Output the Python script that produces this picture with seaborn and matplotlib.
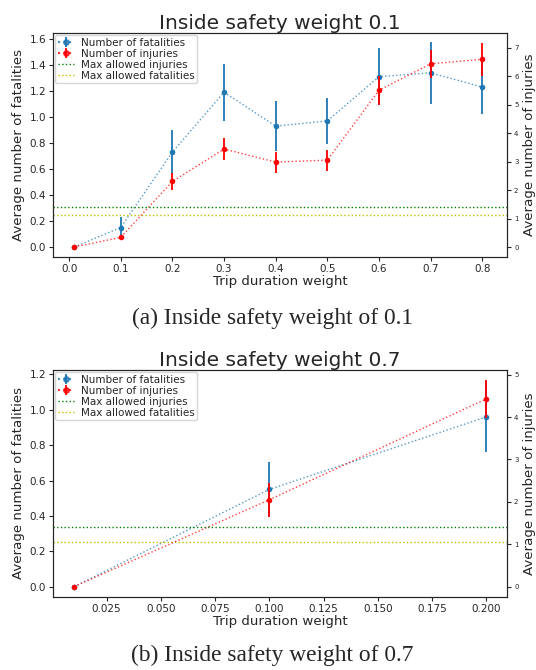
import numpy as np
import pandas as pd
import matplotlib
matplotlib.use("Agg")
import matplotlib.pyplot as plt
import seaborn as sns
from matplotlib.container import ErrorbarContainer

# ---- data ----
# (a) inside safety weight 0.1
trip_a = [0.01, 0.1, 0.2, 0.3, 0.4, 0.5, 0.6, 0.7, 0.8]
fat_a = [0.0, 0.15, 0.73, 1.19, 0.93, 0.97, 1.31, 1.34, 1.23]
fat_err_a = [0.0, 0.08, 0.17, 0.22, 0.19, 0.18, 0.22, 0.24, 0.21]
inj_a = [0.0, 0.34, 2.30, 3.44, 2.98, 3.05, 5.50, 6.43, 6.59]
inj_err_a = [0.0, 0.05, 0.30, 0.40, 0.37, 0.37, 0.50, 0.50, 0.58]

# (b) inside safety weight 0.7
trip_b = [0.01, 0.1, 0.2]
fat_b = [0.0, 0.55, 0.96]
fat_err_b = [0.0, 0.155, 0.20]
inj_b = [0.0, 2.05, 4.43]
inj_err_b = [0.0, 0.40, 0.45]

max_fatalities = 0.25
max_injuries = 1.4

sns.set_style("ticks")
plt.rcParams['font.family'] = ['DejaVu Sans']

fig = plt.figure(figsize=(5.36, 6.70), dpi=100)

BLUE = "#1f77b4"
RED = "red"


def draw_panel(ax, trip, fat, fat_err, inj, inj_err, title, ylim_l, ylim_r, yticks_l, yticks_r):
    df = pd.DataFrame({"trip": trip, "fat": fat, "inj": inj})
    ax2 = ax.twinx()

    # fatalities on the left axis
    sns.lineplot(data=df, x="trip", y="fat", ax=ax, color=BLUE, linestyle=":",
                 linewidth=1.0, alpha=0.75, legend=False)
    sns.scatterplot(data=df, x="trip", y="fat", ax=ax, color=BLUE, s=16,
                    edgecolor=BLUE, linewidth=0, legend=False, zorder=3)
    eb_f = ax.errorbar(trip, fat, yerr=fat_err, fmt="none", ecolor=BLUE, elinewidth=1.3)
    line_f = plt.Line2D([], [], color=BLUE, linestyle=":", marker="o", markersize=3.8, alpha=0.8)
    h_fat = ErrorbarContainer((line_f, (), eb_f.lines[2]), has_yerr=True)
    h_fat.set_label("Number of fatalities")

    # injuries on the right axis
    sns.lineplot(data=df, x="trip", y="inj", ax=ax2, color=RED, linestyle=":",
                 linewidth=1.0, alpha=0.75, legend=False)
    sns.scatterplot(data=df, x="trip", y="inj", ax=ax2, color=RED, s=16,
                    edgecolor=RED, linewidth=0, legend=False, zorder=3)
    eb_i = ax2.errorbar(trip, inj, yerr=inj_err, fmt="none", ecolor=RED, elinewidth=1.3)
    line_i = plt.Line2D([], [], color=RED, linestyle=":", marker="o", markersize=3.8, alpha=0.8)
    h_inj = ErrorbarContainer((line_i, (), eb_i.lines[2]), has_yerr=True)
    h_inj.set_label("Number of injuries")

    h_mi = ax2.axhline(max_injuries, color="green", linestyle=":", linewidth=1.0,
                       label="Max allowed injuries")
    h_mf = ax.axhline(max_fatalities, color="y", linestyle=":", linewidth=1.0,
                      label="Max allowed fatalities")

    ax.set_ylim(*ylim_l)
    ax2.set_ylim(*ylim_r)
    ax.set_yticks(yticks_l)
    ax2.set_yticks(yticks_r)
    ax.set_title(title, fontsize=14.5, pad=3)
    ax.set_xlabel("Trip duration weight", fontsize=9.6, labelpad=1)
    ax.set_ylabel("Average number of fatalities", fontsize=9.6, labelpad=3)
    ax2.set_ylabel("Average number of injuries", fontsize=9.6, labelpad=3)
    ax.tick_params(labelsize=7.5, length=3, pad=2)
    ax2.tick_params(labelsize=5, length=3, pad=2)
    ax2.legend(handles=[h_fat, h_inj, h_mi, h_mf], loc="upper left", fontsize=7.5,
               borderpad=0.25, labelspacing=0.1, handlelength=1.6, handletextpad=0.6,
               borderaxespad=0.2)
    return ax, ax2


ax_a = fig.add_axes([0.099, 0.6164, 0.847, 0.3343])
draw_panel(ax_a, trip_a, fat_a, fat_err_a, inj_a, inj_err_a,
           "Inside safety weight 0.1", (-0.077, 1.646), (-0.35, 7.51),
           np.arange(0, 1.61, 0.2), range(0, 8))
ax_a.set_xlim(-0.031, 0.848)
ax_a.set_xticks([0.0, 0.1, 0.2, 0.3, 0.4, 0.5, 0.6, 0.7, 0.8])

ax_b = fig.add_axes([0.099, 0.109, 0.847, 0.3388])
draw_panel(ax_b, trip_b, fat_b, fat_err_b, inj_b, inj_err_b,
           "Inside safety weight 0.7", (-0.058, 1.225), (-0.244, 5.11),
           np.arange(0, 1.21, 0.2), range(0, 6))
ax_b.set_xlim(0.0003, 0.2095)
ax_b.set_xticks([0.025, 0.05, 0.075, 0.1, 0.125, 0.15, 0.175, 0.2])
ax_b.set_xticklabels(["0.025", "0.050", "0.075", "0.100", "0.125", "0.150", "0.175", "0.200"])

fig.text(0.508, 1 - 318 / 670, "(a) Inside safety weight of 0.1", ha="center", va="center",
         fontsize=16.8, family=["Liberation Serif", "DejaVu Serif"])
fig.text(0.508, 1 - 655 / 670, "(b) Inside safety weight of 0.7", ha="center", va="center",
         fontsize=16.8, family=["Liberation Serif", "DejaVu Serif"])

fig.savefig("out.png", dpi=100)
